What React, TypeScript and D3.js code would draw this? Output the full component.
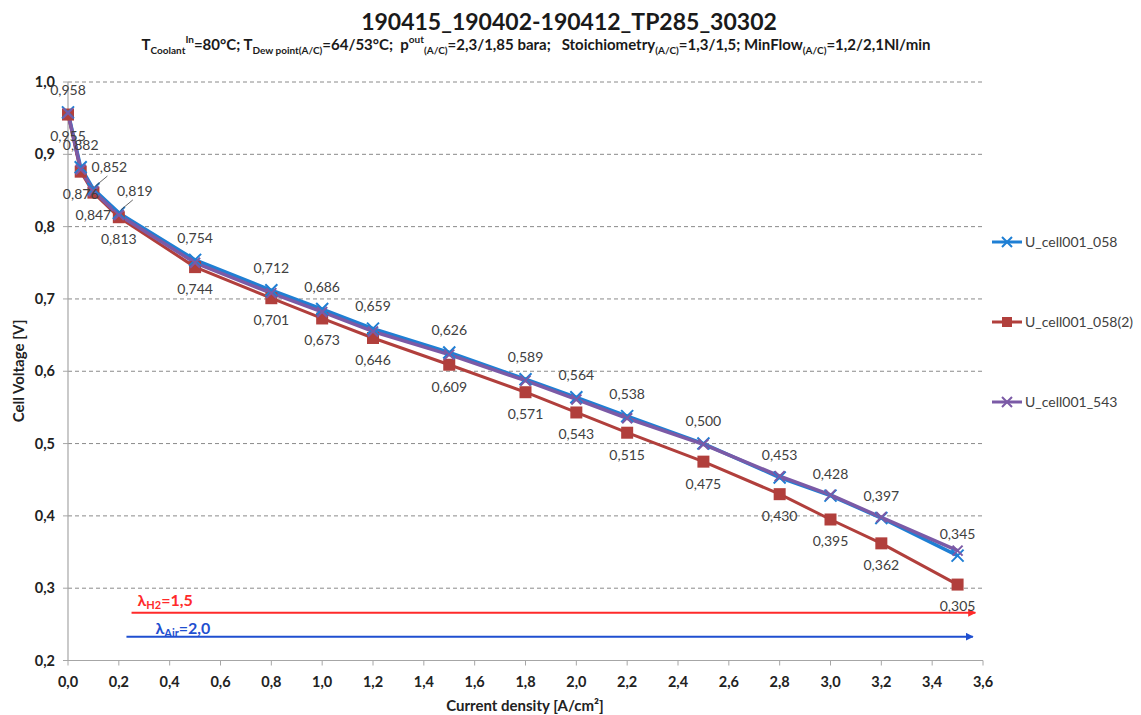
import * as d3 from 'd3';

// current density [A/cm²]
const currentDensity = [0, 0.05, 0.1, 0.2, 0.5, 0.8, 1.0, 1.2, 1.5, 1.8, 2.0, 2.2, 2.5, 2.8, 3.0, 3.2, 3.5];

// cell voltages [V]
const uCell058 = [0.958, 0.882, 0.852, 0.819, 0.754, 0.712, 0.686, 0.659, 0.626, 0.589, 0.564, 0.538, 0.5, 0.453, 0.428, 0.397, 0.345];
const uCell058b = [0.955, 0.876, 0.847, 0.813, 0.744, 0.701, 0.673, 0.646, 0.609, 0.571, 0.543, 0.515, 0.475, 0.43, 0.395, 0.362, 0.305];
const uCell543 = [0.957, 0.879, 0.849, 0.816, 0.75, 0.708, 0.682, 0.655, 0.623, 0.587, 0.561, 0.535, 0.499, 0.455, 0.429, 0.398, 0.352];

const seriesNames = ['U_cell001_058', 'U_cell001_058(2)', 'U_cell001_543'];
const seriesColors = ['#1f7fd4', '#b13f3c', '#7b5aa6'];

const xTickValues = [0, 0.2, 0.4, 0.6, 0.8, 1.0, 1.2, 1.4, 1.6, 1.8, 2.0, 2.2, 2.4, 2.6, 2.8, 3.0, 3.2, 3.4, 3.6];
const yTickValues = [0.2, 0.3, 0.4, 0.5, 0.6, 0.7, 0.8, 0.9, 1.0];

// stoichiometry arrows: [start current, end current, voltage level]
const lambdaH2Arrow = [0.25, 3.57, 0.266];
const lambdaAirArrow = [0.23, 3.56, 0.233];

const FONT = "Lato, 'Open Sans', sans-serif";
const fmt = (v: number, d: number) => v.toFixed(d).replace('.', ',');

const x = d3.scaleLinear().domain([0, 3.6]).range([68, 983]);
const y = d3.scaleLinear().domain([0.2, 1.0]).range([660.5, 82]);

const line = d3.line<number>()
  .x((_, i) => x(currentDensity[i]))
  .y((d) => y(d));

function XMark({ cx, cy, color, s = 6 }: { cx: number; cy: number; color: string; s?: number }) {
  return (
    <path d={`M${cx - s},${cy - s}L${cx + s},${cy + s}M${cx - s},${cy + s}L${cx + s},${cy - s}`}
      stroke={color} strokeWidth={2} fill="none" />
  );
}

function Square({ cx, cy, color, s = 6 }: { cx: number; cy: number; color: string; s?: number }) {
  return <rect x={cx - s} y={cy - s} width={2 * s} height={2 * s} fill={color} />;
}

export default function App() {
  const allSeries = [uCell058, uCell058b, uCell543];
  return (
    <svg width={1141} height={715} style={{ position: 'absolute', left: 0, top: 0, background: '#fff' }}
      fontFamily={FONT}>
      {/* title */}
      <text x={569} y={30} textAnchor="middle" fontSize={23} fontWeight="bold" fill="#1a1a1a">
        190415_190402-190412_TP285_30302
      </text>
      <text x={536} y={50} textAnchor="middle" fontSize={15} fontWeight="bold" fill="#1a1a1a"
        style={{ whiteSpace: 'pre' }}>
        <tspan>T</tspan>
        <tspan fontSize={10} dy={4}>Coolant</tspan>
        <tspan fontSize={10} dy={-11}>In</tspan>
        <tspan dy={7}>=80°C; T</tspan>
        <tspan fontSize={10} dy={4}>Dew point(A/C)</tspan>
        <tspan dy={-4}>=64/53°C;  p</tspan>
        <tspan fontSize={10} dy={-7}>out</tspan>
        <tspan fontSize={10} dy={11}>(A/C)</tspan>
        <tspan dy={-4}>=2,3/1,85 bara;   Stoichiometry</tspan>
        <tspan fontSize={10} dy={4}>(A/C)</tspan>
        <tspan dy={-4}>=1,3/1,5; MinFlow</tspan>
        <tspan fontSize={10} dy={4}>(A/C)</tspan>
        <tspan dy={-4}>=1,2/2,1Nl/min</tspan>
      </text>

      {/* gridlines */}
      {yTickValues.slice(1).map((v) => (
        <line key={v} x1={x(0)} x2={x(3.6) + 2} y1={y(v)} y2={y(v)}
          stroke="#8a8a8a" strokeDasharray="4,3" strokeWidth={1} />
      ))}

      {/* axes */}
      <line x1={x(0)} x2={x(0)} y1={y(1.0)} y2={y(0.2)} stroke="#a6a6a6" strokeWidth={1.2} />
      <line x1={x(0)} x2={x(3.6)} y1={y(0.2)} y2={y(0.2)} stroke="#a6a6a6" strokeWidth={1.2} />
      {yTickValues.map((v) => (
        <g key={v}>
          <line x1={x(0) - 5} x2={x(0)} y1={y(v)} y2={y(v)} stroke="#a6a6a6" />
          <text x={x(0) - 13} y={y(v)} dy="0.35em" textAnchor="end" fontSize={14.5} fontWeight="bold" fill="#222">
            {fmt(v, 1)}
          </text>
        </g>
      ))}
      {xTickValues.map((v) => (
        <g key={v}>
          <line x1={x(v)} x2={x(v)} y1={y(0.2)} y2={y(0.2) + 5} stroke="#a6a6a6" />
          <text x={x(v)} y={y(0.2) + 21} dy="0.35em" textAnchor="middle" fontSize={14.5} fontWeight="bold" fill="#222">
            {fmt(v, 1)}
          </text>
        </g>
      ))}
      <text transform="translate(24,371) rotate(-90)" textAnchor="middle" fontSize={15} fontWeight="bold" fill="#222">
        Cell Voltage [V]
      </text>
      <text x={525} y={711} textAnchor="middle" fontSize={15} fontWeight="bold" fill="#222">
        Current density [A/cm²]
      </text>

      {/* lambda arrows */}
      <defs>
        <marker id="arrRed" viewBox="0 0 10 10" refX={9} refY={5} markerWidth={4} markerHeight={4} orient="auto">
          <path d="M0,0L10,5L0,10Z" fill="#ff2a2a" />
        </marker>
        <marker id="arrBlue" viewBox="0 0 10 10" refX={9} refY={5} markerWidth={4} markerHeight={4} orient="auto">
          <path d="M0,0L10,5L0,10Z" fill="#1f4fd0" />
        </marker>
      </defs>
      <line x1={x(lambdaH2Arrow[0])} x2={x(lambdaH2Arrow[1])} y1={y(lambdaH2Arrow[2])} y2={y(lambdaH2Arrow[2])}
        stroke="#ff2a2a" strokeWidth={2} markerEnd="url(#arrRed)" />
      <line x1={x(lambdaAirArrow[0])} x2={x(lambdaAirArrow[1])} y1={y(lambdaAirArrow[2])} y2={y(lambdaAirArrow[2])}
        stroke="#1f4fd0" strokeWidth={2} markerEnd="url(#arrBlue)" />
      <text x={x(lambdaH2Arrow[0]) + 6} y={y(lambdaH2Arrow[2]) - 7} fontSize={16} fontWeight="bold" fill="#ff2a2a">
        <tspan>λ</tspan>
        <tspan fontSize={11} dy={3}>H2</tspan>
        <tspan dy={-3}>=1,5</tspan>
      </text>
      <text x={x(lambdaAirArrow[0]) + 29} y={y(lambdaAirArrow[2]) - 3} fontSize={16} fontWeight="bold" fill="#1f4fd0">
        <tspan>λ</tspan>
        <tspan fontSize={11} dy={3}>Air</tspan>
        <tspan dy={-3}>=2,0</tspan>
      </text>

      {/* series lines */}
      {allSeries.map((s, k) => (
        <path key={k} d={line(s) || ''} fill="none" stroke={seriesColors[k]} strokeWidth={k === 1 ? 3 : 3.5}
          strokeLinejoin="round" />
      ))}
      {/* markers */}
      {uCell058b.map((v, i) => (
        <Square key={'r' + i} cx={x(currentDensity[i])} cy={y(v)} color={seriesColors[1]} />
      ))}
      {uCell058.map((v, i) => (
        <XMark key={'b' + i} cx={x(currentDensity[i])} cy={y(v)} color={seriesColors[0]} />
      ))}
      {uCell543.map((v, i) => (
        <XMark key={'p' + i} cx={x(currentDensity[i])} cy={y(v)} color={seriesColors[2]} s={5} />
      ))}

      {/* data labels */}
      {uCell058.map((v, i) => {
        const px = x(currentDensity[i]);
        const py = y(v);
        const shifted = i === 2 || i === 3;
        const lx = px + (shifted ? 16 : 0);
        const ly = py - 22;
        return (
          <g key={'lb' + i}>
            {shifted && <line x1={px + 2} y1={py - 3} x2={lx - 2} y2={ly + 9} stroke="#404040" strokeWidth={0.8} />}
            <text x={lx} y={ly} dy="0.35em" textAnchor="middle" fontSize={14} fill="#404040">{fmt(v, 3)}</text>
          </g>
        );
      })}
      {uCell058b.map((v, i) => (
        <text key={'lr' + i} x={x(currentDensity[i])} y={y(v) + 22} dy="0.35em" textAnchor="middle"
          fontSize={14} fill="#404040">{fmt(v, 3)}</text>
      ))}

      {/* legend */}
      {seriesNames.map((name, k) => {
        const ly = 242 + k * 80;
        return (
          <g key={name}>
            <line x1={992} x2={1022} y1={ly} y2={ly} stroke={seriesColors[k]} strokeWidth={3} />
            {k === 1 ? <Square cx={1007} cy={ly} color={seriesColors[k]} s={5} />
              : <XMark cx={1007} cy={ly} color={seriesColors[k]} s={5} />}
            <text x={1025} y={ly} dy="0.35em" fontSize={14} fill="#404040">{name}</text>
          </g>
        );
      })}
    </svg>
  );
}
